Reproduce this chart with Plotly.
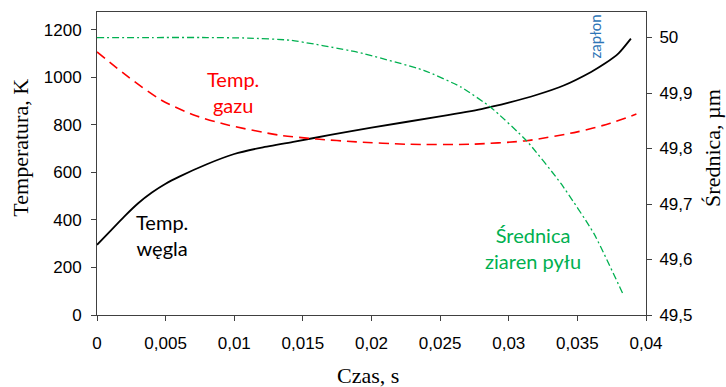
import plotly.graph_objects as go

# ---- data ----
coal_time = [0, 0.001, 0.002, 0.003, 0.004, 0.005, 0.006, 0.008, 0.010, 0.012, 0.0144, 0.017, 0.020, 0.025, 0.028, 0.030, 0.032, 0.034, 0.036, 0.037, 0.038, 0.0389]
coal_temp = [295, 355, 415, 470, 515, 552, 582, 634, 677, 704, 729, 757, 788, 835, 866, 893, 925, 965, 1022, 1057, 1100, 1162]

gas_time = [0, 0.0023, 0.0047, 0.0071, 0.0096, 0.0133, 0.0160, 0.0189, 0.0226, 0.0272, 0.0313, 0.0350, 0.0374, 0.0393]
gas_temp = [1106, 1000, 903, 840, 798, 756, 740, 728, 718, 718, 733, 770, 806, 845]

diam_time = [0, 0.004, 0.008, 0.011, 0.0141, 0.0189, 0.0238, 0.0265, 0.0287, 0.0313, 0.0338, 0.0362, 0.0383]
diam_um = [50.0, 50.0, 50.0, 49.999, 49.995, 49.974, 49.941, 49.911, 49.874, 49.814, 49.737, 49.647, 49.539]

x_ticks = [0, 0.005, 0.01, 0.015, 0.02, 0.025, 0.03, 0.035, 0.04]
x_tick_labels = ["0", "0,005", "0,01", "0,015", "0,02", "0,025", "0,03", "0,035", "0,04"]
y_ticks = [0, 200, 400, 600, 800, 1000, 1200]
y_tick_labels = ["0", "200", "400", "600", "800", "1000", "1200"]
y2_ticks = [49.5, 49.6, 49.7, 49.8, 49.9, 50.0]
y2_tick_labels = ["49,5", "49,6", "49,7", "49,8", "49,9", "50"]

AX = "#404040"
TICKFONT = dict(family="Liberation Sans", size=17, color="#000000")
TITLEFONT = dict(family="Liberation Serif", size=22, color="#000000")
LABELFONT = "Lato"

fig = go.Figure()
fig.add_trace(go.Scatter(x=coal_time, y=coal_temp, mode="lines",
                         line=dict(color="#000000", width=1.8, shape="spline", smoothing=0.6),
                         showlegend=False))
fig.add_trace(go.Scatter(x=gas_time, y=gas_temp, mode="lines",
                         line=dict(color="#FF0000", width=1.6, dash="10px,6px", shape="spline", smoothing=0.7),
                         showlegend=False))
fig.add_trace(go.Scatter(x=diam_time, y=diam_um, mode="lines", yaxis="y2",
                         line=dict(color="#00B050", width=1.3, dash="7px,3px,2px,3px", shape="spline", smoothing=0.5),
                         showlegend=False))

annotations = [
    dict(text="Temp.<br>gazu", x=0.0099, y=939, xref="x", yref="y", showarrow=False,
         font=dict(family=LABELFONT, size=20, color="#FF0000")),
    dict(text="Temp.<br>węgla", x=0.0047, y=337, xref="x", yref="y", showarrow=False,
         font=dict(family=LABELFONT, size=20, color="#000000")),
    dict(text="Średnica<br>ziaren pyłu", x=0.0318, y=280, xref="x", yref="y", showarrow=False,
         font=dict(family=LABELFONT, size=20, color="#00B050")),
    dict(text="zapłon", x=0.0363, y=1172, xref="x", yref="y", showarrow=False, textangle=-90,
         font=dict(family=LABELFONT, size=15, color="#2E75B6")),
    dict(text="Temperatura, K", x=-0.141, y=0.551, xref="paper", yref="paper", showarrow=False,
         xanchor="center", yanchor="middle", textangle=-90, font=TITLEFONT),
    dict(text="Średnica, µm", x=1.120, y=0.551, xref="paper", yref="paper", showarrow=False,
         xanchor="center", yanchor="middle", textangle=-90, font=TITLEFONT),
    dict(text="Czas, s", x=0.494, y=-0.200, xref="paper", yref="paper", showarrow=False,
         xanchor="center", yanchor="middle", font=TITLEFONT),
]

fig.update_layout(
    width=726, height=387,
    margin=dict(l=97, r=80, t=12, b=72),
    paper_bgcolor="white", plot_bgcolor="white",
    annotations=annotations,
    xaxis=dict(range=[0, 0.04], tickvals=x_ticks, ticktext=x_tick_labels,
               showgrid=False, zeroline=False, showline=True, linecolor=AX, linewidth=1,
               mirror=True, ticks="outside", ticklen=5, tickcolor=AX,
               tickfont=TICKFONT, ticklabelstandoff=8),
    yaxis=dict(range=[0, 1274], tickvals=y_ticks, ticktext=y_tick_labels,
               showgrid=False, zeroline=False, showline=True, linecolor=AX, linewidth=1,
               ticks="outside", ticklen=5, tickcolor=AX, tickfont=TICKFONT, ticklabelstandoff=6),
    yaxis2=dict(range=[49.5, 50.046], tickvals=y2_ticks, ticktext=y2_tick_labels,
                overlaying="y", side="right",
                showgrid=False, zeroline=False, showline=True, linecolor=AX, linewidth=1,
                ticks="outside", ticklen=5, tickcolor=AX, tickfont=TICKFONT, ticklabelstandoff=4),
)

fig.write_html("out.html")
